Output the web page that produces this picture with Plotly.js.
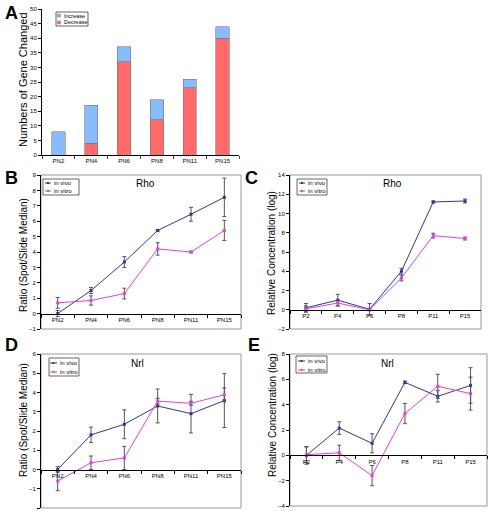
<!DOCTYPE html>
<html><head><meta charset="utf-8">
<script src="https://cdn.plot.ly/plotly-3.0.1.min.js"></script>
<style>html,body{margin:0;padding:0;background:#fff}#g{width:488px;height:511px}</style>
</head><body><div id="g"></div>
<script>
const stagesPN = ['PN2','PN4','PN6','PN8','PN11','PN15'];
const stagesP = ['P2','P4','P6','P8','P11','P15'];
// Panel A
const increase = [8,13,5,7,3,4];
const decrease = [0,4,32,12,23,40];
// Panel B: Rho ratio
const rhoRatioVivo = [0,1.5,3.35,5.4,6.45,7.55];
const rhoRatioVivoErr = [0.2,0.2,0.35,0.05,0.45,1.25];
const rhoRatioVitro = [0.7,0.85,1.3,4.2,4.0,5.4];
const rhoRatioVitroErr = [0.35,0.3,0.35,0.4,0.05,0.65];
// Panel C: Rho concentration
const rhoConcVivo = [0.2,1.0,0.05,4.0,11.2,11.3];
const rhoConcVivoErr = [0.45,0.6,0.6,0.3,0.1,0.2];
const rhoConcVitro = [0.1,0.7,0.0,3.3,7.7,7.4];
const rhoConcVitroErr = [0.3,0.3,0.1,0.3,0.25,0.15];
// Panel D: Nrl ratio
const nrlRatioVivo = [0,1.8,2.35,3.3,2.9,3.58];
const nrlRatioVivoErr = [0.15,0.4,0.75,0.88,1.0,1.4];
const nrlRatioVitro = [-0.6,0.35,0.6,3.55,3.44,3.88];
const nrlRatioVitroErr = [0.5,0.35,0.6,0.15,0.1,0.36];
// Panel E: Nrl concentration
const nrlConcVivo = [0,2.15,0.95,5.76,4.66,5.52];
const nrlConcVivoErr = [0.7,0.5,0.75,0.1,0.45,1.4];
const nrlConcVitro = [0.05,0.2,-1.6,3.3,5.45,4.87];
const nrlConcVitroErr = [0.6,0.6,0.8,0.8,0.95,1.3];

const W=488,H=511;
const FONT='Liberation Sans, Arial, sans-serif';
const VIVO='#333399', VITRO='#e040e0', INC='#88bbff', DEC='#ff6b6b';
const px=(a,b)=>[a/W,b/W];
const py=(top,bot)=>[1-bot/H,1-top/H];

function lineTrace(x,y,err,name,color,xa,ya){
  return {type:'scatter',mode:'lines+markers',x:x,y:y,name:name,
    xaxis:xa,yaxis:ya,showlegend:false,
    line:{color:color,width:1},marker:{color:color,size:3,symbol:'square'},
    error_y:{type:'data',array:err,visible:true,color:'#555',thickness:1,width:2}};
}

const data=[
  {type:'bar',x:stagesPN,y:decrease,name:'Decrease',showlegend:false,marker:{color:DEC,line:{color:'#777',width:0.6}},xaxis:'x',yaxis:'y'},
  {type:'bar',x:stagesPN,y:increase,name:'Increase',showlegend:false,marker:{color:INC,line:{color:'#777',width:0.6}},xaxis:'x',yaxis:'y'},
  lineTrace(stagesPN,rhoRatioVivo,rhoRatioVivoErr,'in vivo',VIVO,'x2','y2'),
  lineTrace(stagesPN,rhoRatioVitro,rhoRatioVitroErr,'in vitro',VITRO,'x2','y2'),
  lineTrace(stagesP,rhoConcVivo,rhoConcVivoErr,'in vivo',VIVO,'x3','y3'),
  lineTrace(stagesP,rhoConcVitro,rhoConcVitroErr,'in vitro',VITRO,'x3','y3'),
  lineTrace(stagesPN,nrlRatioVivo,nrlRatioVivoErr,'in vivo',VIVO,'x4','y4'),
  lineTrace(stagesPN,nrlRatioVitro,nrlRatioVitroErr,'in vitro',VITRO,'x4','y4'),
  lineTrace(stagesP,nrlConcVivo,nrlConcVivoErr,'in vivo',VIVO,'x5','y5'),
  lineTrace(stagesP,nrlConcVitro,nrlConcVitroErr,'in vitro',VITRO,'x5','y5')
];

const tickf={family:FONT,size:6,color:'#000'};
function yax(dom,range,dtick){
  return {domain:dom,range:range,dtick:dtick,showgrid:false,zeroline:false,showline:true,
    linecolor:'#000',linewidth:1,ticks:'outside',ticklen:3,tickcolor:'#000',tickfont:tickf,fixedrange:true};
}
function xax(dom,yr,ydom){
  const pos = ydom[0]+(0-yr[0])/(yr[1]-yr[0])*(ydom[1]-ydom[0]);
  return {domain:dom,type:'category',range:[-0.5,5.5],anchor:'free',position:pos,showgrid:false,zeroline:false,
    showline:true,linecolor:'#000',linewidth:1,ticks:'outside',ticklen:3,tickcolor:'#000',tickson:'boundaries',
    tickfont:tickf,fixedrange:true};
}

const dA={x:px(42,239),y:py(9,155)};
const dB={x:px(41,241),y:py(175,329)};
const dC={x:px(290,481),y:py(175,329)};
const dD={x:px(41,241),y:py(354,508)};
const dE={x:px(290,487),y:py(354,506)};
const rA=[0,50],rB=[-1,9],rC=[-2,14],rD=[-2,6],rE=[-4,8];

function border(xa,ya){
  return {type:'rect',xref:xa+' domain',yref:ya+' domain',x0:0,x1:1,y0:0,y1:1,line:{color:'#999',width:1},layer:'below'};
}
function ann(text,x,y,size,opts){
  return Object.assign({text:text,xref:'paper',yref:'paper',x:x/W,y:1-y/H,showarrow:false,
    font:{family:FONT,size:size,color:'#000'},xanchor:'center',yanchor:'middle'},opts||{});
}
const shapes=[border('x2','y2'),border('x3','y3'),border('x4','y4'),border('x5','y5')];
const annotations=[];
function pr(x0,y0,x1,y1,line,fill){
  shapes.push({type:'rect',xref:'paper',yref:'paper',x0:x0/W,x1:x1/W,y0:1-y0/H,y1:1-y1/H,
    line:line,fillcolor:fill,layer:'above'});
}
function pl(x0,y0,x1,y1,color){
  shapes.push({type:'line',xref:'paper',yref:'paper',x0:x0/W,x1:x1/W,y0:1-y0/H,y1:1-y1/H,line:{color:color,width:1},layer:'above'});
}
// legend boxes drawn as shapes + text
function lineLegend(bx0,by0,bx1,by1,rows,lx0,lx1){
  pr(bx0,by0,bx1,by1,{color:'#000',width:0.6},'#fff');
  const items=[['in vivo',VIVO],['in vitro',VITRO]];
  items.forEach((it,i)=>{
    const yy=rows[i];
    pl(lx0,yy,lx1,yy,it[1]);
    pr((lx0+lx1)/2-1,yy-1,(lx0+lx1)/2+1,yy+1,{width:0},it[1]);
    annotations.push(ann(it[0],lx1+1,yy,6,{xanchor:'left'}));
  });
}
// A legend
pr(56,12,88,26,{color:'#000',width:0.6},'#fff');
pr(57.5,14,60.5,17,{color:'#777',width:0.5},INC);
pr(57.5,21,60.5,24,{color:'#777',width:0.5},DEC);
annotations.push(ann('Increase',62,15.5,5.5,{xanchor:'left'}));
annotations.push(ann('Decrease',62,22.5,5.5,{xanchor:'left'}));
lineLegend(43,179,79,195,[183,191],45,51);
lineLegend(297,179,327,195,[183,191],299,305);
lineLegend(49,358,79,376,[363,372],50,57);
lineLegend(296,356,327,373,[361,370],298,305);

annotations.push(
    ann('<b>A</b>',11,13,18),ann('<b>B</b>',11,178,18),ann('<b>C</b>',251,178,18),
    ann('<b>D</b>',11,345,18),ann('<b>E</b>',254,345,18),
    ann('Numbers of Gene Changed',23,80,11,{textangle:-90}),
    ann('Ratio (Spot/Slide Median)',23,255,10,{textangle:-90}),
    ann('Relative Concentration (log)',272,253,10,{textangle:-90}),
    ann('Ratio (Spot/Slide Median)',23,420,10,{textangle:-90}),
    ann('Relative Concentration (log)',272,415,10,{textangle:-90}),
    ann('Rho',145,183,10),ann('Rho',392,183,10),ann('Nrl',137,363,10),ann('Nrl',387,363,10));

const layout={
  width:W,height:H,margin:{l:0,r:0,t:0,b:0},paper_bgcolor:'#fff',plot_bgcolor:'#fff',
  barmode:'stack',bargap:0.59,showlegend:false,font:{family:FONT},
  xaxis:{domain:dA.x,type:'category',range:[-0.5,5.5],anchor:'y',showline:true,linecolor:'#000',linewidth:1,ticks:'outside',ticklen:3,tickson:'boundaries',tickfont:tickf,showgrid:false,fixedrange:true},
  yaxis:yax(dA.y,rA,5),
  xaxis2:xax(dB.x,rB,dB.y),yaxis2:Object.assign(yax(dB.y,rB,1),{anchor:'x2'}),
  xaxis3:xax(dC.x,rC,dC.y),yaxis3:Object.assign(yax(dC.y,rC,2),{anchor:'x3'}),
  xaxis4:xax(dD.x,rD,dD.y),yaxis4:Object.assign(yax(dD.y,rD,1),{anchor:'x4'}),
  xaxis5:xax(dE.x,rE,dE.y),yaxis5:Object.assign(yax(dE.y,rE,2),{anchor:'x5'}),
  shapes:shapes,annotations:annotations
};
Plotly.newPlot('g',data,layout,{staticPlot:true,displayModeBar:false});
</script></body></html>
